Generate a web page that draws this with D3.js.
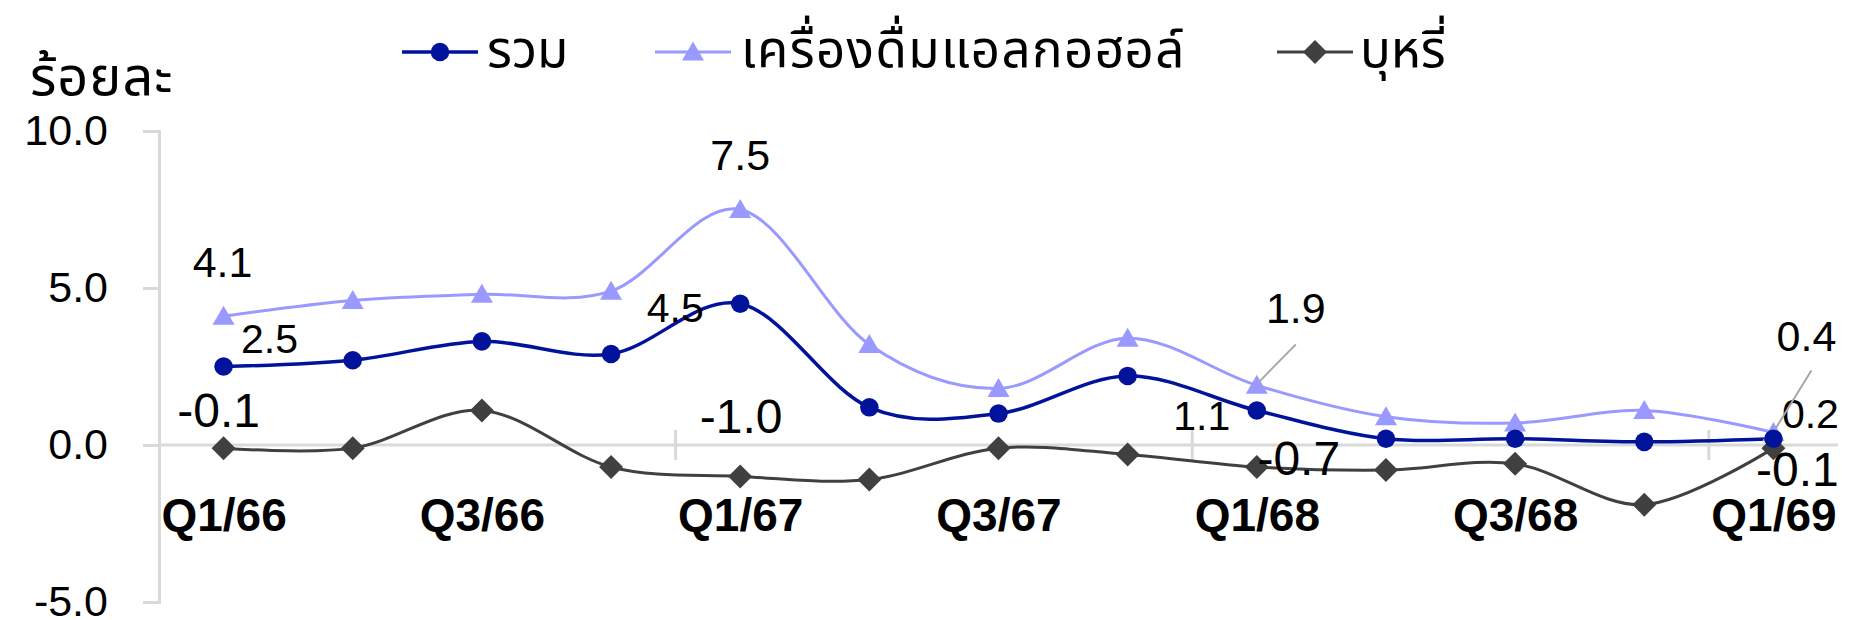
<!DOCTYPE html>
<html>
<head>
<meta charset="utf-8">
<script src="https://cdn.jsdelivr.net/npm/d3@7"></script>
<style>
  html, body { margin: 0; padding: 0; background: #ffffff; }
  svg { display: block; }
  .num { font-family: "Liberation Sans", Arial, sans-serif; }
  .thai { font-family: "Noto Sans Thai", "Noto Sans", "Liberation Sans", sans-serif; }
</style>
</head>
<body>
<svg id="chart" width="1852" height="620"></svg>
<script>
// ---------------- data ----------------
const categories = ["Q1/66","Q2/66","Q3/66","Q4/66","Q1/67","Q2/67","Q3/67","Q4/67","Q1/68","Q2/68","Q3/68","Q4/68","Q1/69"];
const totalValues   = [2.5, 2.7, 3.3, 2.9, 4.5, 1.2, 1.0, 2.2, 1.1, 0.2, 0.2, 0.1, 0.2];
const alcoholValues = [4.1, 4.6, 4.8, 4.9, 7.5, 3.2, 1.8, 3.4, 1.9, 0.9, 0.7, 1.1, 0.4];
const tobaccoValues = [-0.1, -0.1, 1.1, -0.7, -1.0, -1.1, -0.1, -0.3, -0.7, -0.8, -0.6, -1.9, -0.1];
const seriesNames = ["รวม", "เครื่องดื่มแอลกอฮอล์", "บุหรี่"];
const yTicks = [-5, 0, 5, 10];
const xLabelCats = ["Q1/66","Q3/66","Q1/67","Q3/67","Q1/68","Q3/68","Q1/69"];
const labelledCats = ["Q1/66","Q1/67","Q1/68","Q1/69"];
const yTitle = "ร้อยละ";

// ---------------- layout / style ----------------
const plot = { left: 159, right: 1838, top: 131, bottom: 602 };
const series = [
  { name: seriesNames[0], values: totalValues,   color: "#00139a", width: 3.5, marker: "circle",
    font: 41, // label offsets [dx of centre, dy of baseline] relative to point
    offsets: [[46, -14], [-65, 18], [-55, 20], [37, -11]], leaders: [false, false, false, false],
    legendSpacing: 0 },
  { name: seriesNames[1], values: alcoholValues, color: "#9999ff", width: 3, marker: "triangle",
    font: 43,
    offsets: [[-1, -39], [0, -40], [39, -62], [33, -81]], leaders: [false, false, true, true],
    legendSpacing: 1.4 },
  { name: seriesNames[2], values: tobaccoValues, color: "#404040", width: 3, marker: "diamond",
    font: 48,
    offsets: [[-5, -21], [1, -43], [42, 8], [24, 38]], leaders: [false, false, false, false],
    legendSpacing: 0 }
];
const legendLayout = [
  { x1: 402, x2: 478, tx: 487 },
  { x1: 655, x2: 731, tx: 741 },
  { x1: 1277, x2: 1353, tx: 1360 }
];
const legendY = 52;

// ---------------- scales ----------------
const svg = d3.select("#chart");
const xBand = d3.scaleBand().domain(categories).range([plot.left, plot.right]);
const x = d => xBand(d) + xBand.bandwidth() / 2;
const y = d3.scaleLinear().domain([-5, 10]).range([plot.bottom, plot.top]);
const fmt = v => v.toFixed(1);

function markerPath(type) {
  if (type === "circle") return d3.symbol(d3.symbolCircle, 270)();
  if (type === "triangle") {
    const w = 22, h = 19;
    return `M0,${-h/2 - 1}L${w/2},${h/2 - 1}L${-w/2},${h/2 - 1}Z`;
  }
  const r = 12;
  return `M0,${-r}L${r},0L0,${r}L${-r},0Z`;
}

// ---------------- axes ----------------
const axisColor = "#d9d9d9";
const yAxis = d3.axisLeft(y).tickValues(yTicks).tickFormat(fmt).tickSize(16).tickPadding(35);
const gy = svg.append("g").attr("transform", `translate(${plot.left},0)`).call(yAxis);
gy.select(".domain").attr("stroke", axisColor).attr("stroke-width", 3);
gy.selectAll(".tick line").attr("stroke", axisColor).attr("stroke-width", 3);
gy.selectAll(".tick text").attr("class", "num").attr("font-size", 43).attr("fill", "#000");

// zero line (category axis)
svg.append("line")
  .attr("x1", plot.left).attr("x2", plot.right)
  .attr("y1", y(0)).attr("y2", y(0))
  .attr("stroke", axisColor).attr("stroke-width", 3);

// boundary tick marks every 4 categories
[4, 8, 12].forEach(i => {
  const bx = xBand(categories[i]);
  svg.append("line")
    .attr("x1", bx).attr("x2", bx)
    .attr("y1", y(0) - 15).attr("y2", y(0) + 15)
    .attr("stroke", axisColor).attr("stroke-width", 3);
});

// category labels
const xPoint = d3.scalePoint().domain(categories).range([x(categories[0]), x(categories[categories.length - 1])]);
const xAxis = d3.axisBottom(xPoint).tickValues(xLabelCats).tickSize(0).tickPadding(53);
const gx = svg.append("g").attr("transform", `translate(0,${y(0)})`).call(xAxis);
gx.select(".domain").remove();
gx.selectAll(".tick text").attr("class", "num").attr("font-size", 46).attr("font-weight", "bold").attr("fill", "#000");

// y title
svg.append("text").attr("class", "thai")
  .attr("x", 30).attr("y", 95)
  .attr("font-size", 54).attr("letter-spacing", 1).attr("fill", "#000")
  .text(yTitle);

// ---------------- lines & markers ----------------
const line = d3.line()
  .x((d, i) => x(categories[i]))
  .y(d => y(d))
  .curve(d3.curveCardinal.tension(0));

series.slice().reverse().forEach(s => {
  svg.append("path")
    .attr("d", line(s.values))
    .attr("fill", "none")
    .attr("stroke", s.color)
    .attr("stroke-width", s.width)
    .attr("stroke-linejoin", "round");
});
series.slice().reverse().forEach(s => {
  svg.append("g").selectAll("path")
    .data(s.values)
    .join("path")
    .attr("d", markerPath(s.marker))
    .attr("transform", (d, i) => `translate(${x(categories[i])},${y(d)})`)
    .attr("fill", s.color);
});

// ---------------- data labels ----------------
series.forEach(s => {
  labelledCats.forEach((c, k) => {
    const i = categories.indexOf(c);
    const px = x(c), py = y(s.values[i]);
    const [dx, dy] = s.offsets[k];
    if (s.leaders[k]) {
      svg.append("line")
        .attr("x1", px + dx * 0.02 + (dx > 0 ? 1 : 0))
        .attr("y1", py - 3)
        .attr("x2", px + dx * (k === 3 ? 1.15 : 1.0))
        .attr("y2", py + dy + (k === 3 ? 19 : 21))
        .attr("stroke", "#a6a6a6").attr("stroke-width", 2);
    }
    svg.append("text").attr("class", "num")
      .attr("x", px + dx).attr("y", py + dy)
      .attr("text-anchor", "middle")
      .attr("font-size", s.font).attr("fill", "#000")
      .text(fmt(s.values[i]));
  });
});

// ---------------- legend ----------------
series.forEach((s, k) => {
  const L = legendLayout[k];
  const g = svg.append("g");
  g.append("line").attr("x1", L.x1).attr("x2", L.x2).attr("y1", legendY).attr("y2", legendY)
    .attr("stroke", s.color).attr("stroke-width", s.width);
  g.append("path").attr("d", markerPath(s.marker))
    .attr("transform", `translate(${(L.x1 + L.x2) / 2},${legendY})`).attr("fill", s.color);
  g.append("text").attr("class", "thai").attr("x", L.tx).attr("y", 67)
    .attr("font-size", 51).attr("letter-spacing", s.legendSpacing).attr("fill", "#000").text(s.name);
});
</script>
</body>
</html>
